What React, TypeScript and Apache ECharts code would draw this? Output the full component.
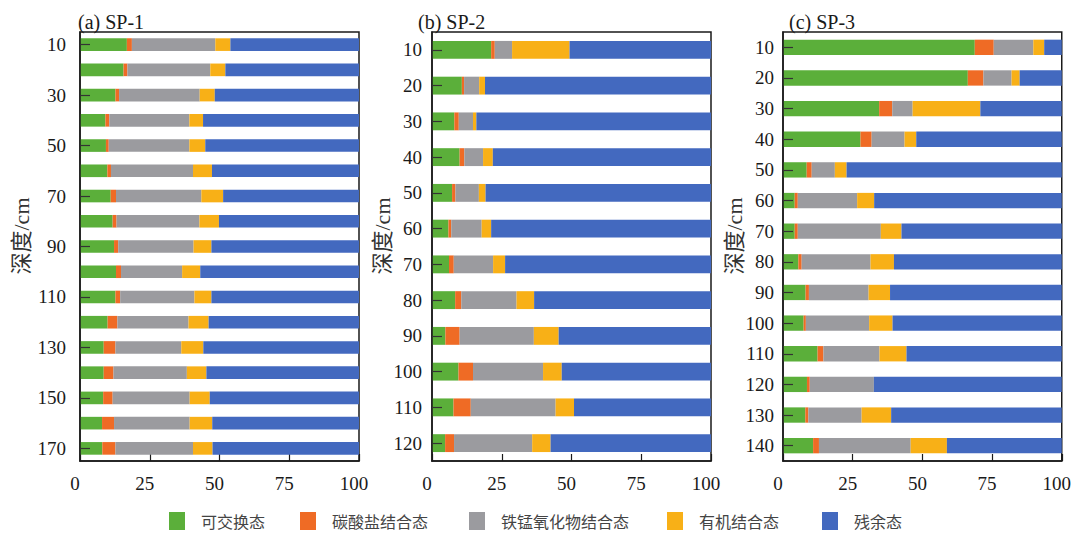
import React, { useEffect, useRef } from "react";
import * as echarts from "echarts";

// Fraction names (legend order) and their colours
const fractions = ["可交换态", "碳酸盐结合态", "铁锰氧化物结合态", "有机结合态", "残余态"];
const colors = ["#5BAF3A", "#EF6B25", "#9B9B9F", "#F8B017", "#4369BF"];

// SP-1 profile, depth 10–170 cm (%)
const depthsSP1 = ["10", "20", "30", "40", "50", "60", "70", "80", "90", "100", "110", "120", "130", "140", "150", "160", "170"];
const sp1Exchangeable = [16.8, 15.6, 12.7, 9.1, 9.3, 9.8, 11.0, 11.7, 12.2, 12.9, 12.7, 9.9, 8.5, 8.5, 8.3, 7.9, 8.0];
const sp1Carbonate = [1.8, 1.4, 1.3, 1.4, 1.0, 1.3, 1.9, 1.4, 1.5, 1.8, 1.7, 3.5, 4.2, 3.5, 3.4, 4.3, 4.7];
const sp1FeMnOxide = [29.9, 29.7, 28.9, 28.7, 28.9, 29.4, 30.6, 29.7, 27.0, 21.9, 26.6, 25.5, 23.6, 26.3, 27.6, 27.1, 27.8];
const sp1Organic = [5.4, 5.4, 5.4, 4.9, 5.7, 6.8, 7.8, 7.0, 6.4, 6.5, 6.1, 7.2, 7.9, 7.0, 7.2, 8.1, 7.0];
const sp1Residual = [46.1, 47.9, 51.7, 55.9, 55.1, 52.7, 48.7, 50.2, 52.9, 56.9, 52.9, 53.9, 55.8, 54.7, 53.5, 52.6, 52.5];

// SP-2 profile, depth 10–120 cm (%)
const depthsSP2 = ["10", "20", "30", "40", "50", "60", "70", "80", "90", "100", "110", "120"];
const sp2Exchangeable = [21.2, 10.7, 8.0, 9.9, 7.2, 5.9, 6.1, 8.3, 4.8, 9.5, 7.7, 4.7];
const sp2Carbonate = [1.3, 0.8, 1.6, 1.7, 1.2, 1.0, 1.7, 2.2, 5.1, 5.2, 6.2, 3.2];
const sp2FeMnOxide = [6.2, 5.4, 5.1, 6.7, 8.4, 10.9, 14.1, 19.8, 26.6, 25.1, 30.4, 28.0];
const sp2Organic = [20.6, 2.1, 1.2, 3.5, 2.4, 3.4, 4.3, 6.3, 8.9, 6.7, 6.6, 6.6];
const sp2Residual = [50.7, 81.0, 84.1, 78.2, 80.8, 78.8, 73.8, 63.4, 54.6, 53.5, 49.1, 57.5];

// SP-3 profile, depth 10–140 cm (%)
const depthsSP3 = ["10", "20", "30", "40", "50", "60", "70", "80", "90", "100", "110", "120", "130", "140"];
const sp3Exchangeable = [68.8, 66.3, 34.5, 27.8, 8.5, 4.2, 4.2, 5.5, 8.1, 7.4, 12.4, 8.6, 8.0, 10.8];
const sp3Carbonate = [6.8, 5.6, 4.7, 4.0, 1.8, 1.1, 1.1, 1.2, 1.2, 0.8, 2.1, 1.0, 1.1, 2.1];
const sp3FeMnOxide = [14.2, 10.1, 7.3, 11.8, 8.3, 21.3, 29.8, 24.7, 21.4, 22.7, 20.1, 23.0, 19.1, 32.9];
const sp3Organic = [3.9, 2.9, 24.3, 4.2, 4.2, 6.1, 7.4, 8.4, 7.7, 8.4, 9.7, 0, 10.6, 13.0];
const sp3Residual = [6.3, 15.1, 29.2, 52.2, 77.2, 67.3, 57.5, 60.2, 61.6, 60.7, 55.7, 67.4, 61.2, 41.2];

// Value-axis ticks
const xTicks = [0, 25, 50, 75, 100];

const panels = [
  {
    title: "(a) SP-1",
    depths: depthsSP1,
    values: [sp1Exchangeable, sp1Carbonate, sp1FeMnOxide, sp1Organic, sp1Residual],
    left: 80,
    titleLeft: 73,
    labelInterval: 1,
    nameX: 21,
    labelMargin: 14,
  },
  {
    title: "(b) SP-2",
    depths: depthsSP2,
    values: [sp2Exchangeable, sp2Carbonate, sp2FeMnOxide, sp2Organic, sp2Residual],
    left: 432,
    titleLeft: 413,
    labelInterval: 0,
    nameX: 382,
    labelMargin: 10,
  },
  {
    title: "(c) SP-3",
    depths: depthsSP3,
    values: [sp3Exchangeable, sp3Carbonate, sp3FeMnOxide, sp3Organic, sp3Residual],
    left: 783,
    titleLeft: 784,
    labelInterval: 0,
    nameX: 734,
    labelMargin: 9,
  },
];

const SERIF = "Liberation Serif";
const NAME_FONT = "Liberation Serif, Noto Sans CJK SC";
const CJK = "Noto Sans CJK SC";
const DEPTH_NAME = "深度/cm";

// Legend icon left positions
const legendLefts = [169, 300, 469, 667, 822];

export default function App() {
  const ref = useRef<HTMLDivElement>(null);

  useEffect(() => {
    if (!ref.current) return;
    const chart = echarts.init(ref.current, undefined, { renderer: "svg" });

    const grids = panels.map((p) => ({
      left: p.left,
      top: 32,
      width: 279,
      height: 429,
      show: true,
      borderColor: "#1a1a1a",
      borderWidth: 1.5,
      backgroundColor: "transparent",
    }));

    const xAxes = panels.map((_, i) => ({
      type: "value",
      gridIndex: i,
      min: 0,
      max: 100,
      interval: 25,
      axisLine: { show: true, lineStyle: { color: "#1a1a1a", width: 1.5 } },
      axisTick: { show: true, inside: true, length: 7, lineStyle: { color: "#1a1a1a", width: 1.2 } },
      splitLine: { show: false },
      axisLabel: {
        color: "#1a1a1a",
        fontSize: 19,
        fontFamily: SERIF,
        margin: 13,
        padding: [0, 10, 0, 0],
        formatter: (v: number) => (xTicks.includes(v) ? String(v) : ""),
      },
    }));

    const yAxes = panels.map((p, i) => ({
      type: "category",
      gridIndex: i,
      data: p.depths,
      inverse: true,
      z: 5,
      axisLine: { show: true, lineStyle: { color: "#1a1a1a", width: 1.5 } },
      axisTick: {
        show: true,
        inside: true,
        alignWithLabel: true,
        interval: p.labelInterval,
        length: 10,
        lineStyle: { color: "#333", width: 1.2 },
      },
      axisLabel: {
        interval: p.labelInterval,
        color: "#1a1a1a",
        fontSize: 19,
        fontFamily: SERIF,
        margin: p.labelMargin,
      },
      splitLine: { show: false },
    }));

    const series: any[] = [];
    panels.forEach((p, i) => {
      fractions.forEach((name, k) => {
        series.push({
          type: "bar",
          name,
          xAxisIndex: i,
          yAxisIndex: i,
          stack: "panel" + i,
          barCategoryGap: "50%",
          data: p.values[k],
          itemStyle: { color: colors[k] },
          emphasis: { disabled: true },
        });
      });
    });

    const titles = panels.map((p) => ({
      text: p.title,
      left: p.titleLeft,
      top: 7,
      textStyle: { fontSize: 20, fontWeight: "normal", color: "#1a1a1a", fontFamily: SERIF },
    }));

    // Vertical depth-axis names
    const depthNames = panels.map((p) => ({
      type: "text",
      x: p.nameX,
      y: 236,
      rotation: Math.PI / 2,
      style: {
        text: DEPTH_NAME,
        fontSize: 22,
        fontFamily: NAME_FONT,
        fill: "#333",
        align: "center",
        verticalAlign: "middle",
      },
    }));

    const legends = fractions.map((name, k) => ({
      data: [name],
      left: legendLefts[k] - 5,
      top: 507,
      orient: "horizontal",
      itemWidth: 16,
      itemHeight: 18,
      icon: "rect",
      selectedMode: false,
      textStyle: { fontSize: 16, color: "#444", fontFamily: CJK, padding: [0, 0, 0, 11] },
    }));

    chart.setOption({
      animation: false,
      backgroundColor: "#ffffff",
      title: titles,
      legend: legends,
      grid: grids,
      xAxis: xAxes,
      yAxis: yAxes,
      series,
      graphic: depthNames,
    });

    return () => chart.dispose();
  }, []);

  return (
    <div
      ref={ref}
      style={{ position: "fixed", left: 0, top: 0, width: 1074, height: 533, background: "#fff" }}
    />
  );
}
